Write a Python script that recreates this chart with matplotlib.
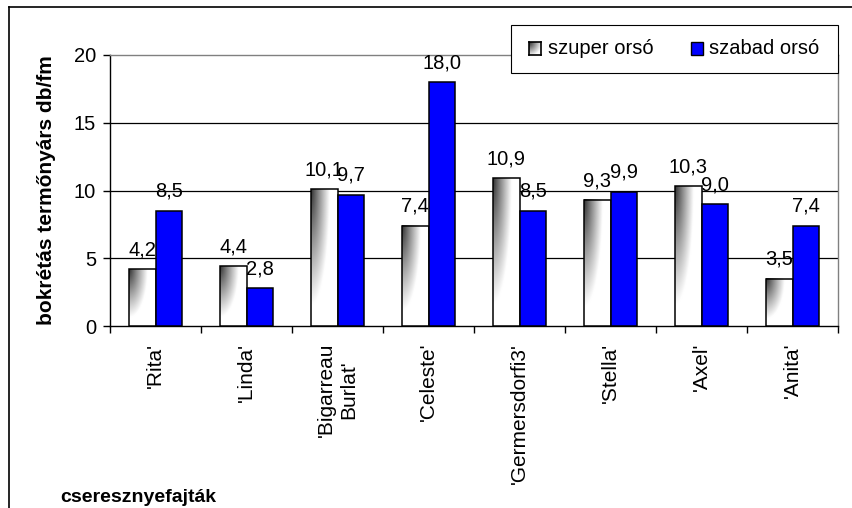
import numpy as np
import matplotlib
matplotlib.use('Agg')
import matplotlib.pyplot as plt
from matplotlib.patches import Rectangle
from matplotlib.lines import Line2D

categories = ["'Rita'", "'Linda'", "'Bigarreau\nBurlat'", "'Celeste'",
              "'Germersdorfi3'", "'Stella'", "'Axel'", "'Anita'"]
szuper = [4.2, 4.4, 10.1, 7.4, 10.9, 9.3, 10.3, 3.5]
szabad = [8.5, 2.8, 9.7, 18.0, 8.5, 9.9, 9.0, 7.4]
series_names = ['szuper orsó', 'szabad orsó']
y_ticks = [0, 5, 10, 15, 20]
y_label = 'bokrétás termőnyárs db/fm'
x_label = 'cseresznyefajták'

plt.rcParams['font.family'] = ['Liberation Sans', 'DejaVu Sans']

W, H = 852, 508
fig = plt.figure(figsize=(W / 100, H / 100), dpi=100)
ax = fig.add_axes([110 / W, 1 - 326 / H, 728 / W, 271 / H])

x = np.arange(len(categories))
bw = 0.29
bars1 = ax.bar(x - bw / 2, szuper, bw, facecolor='none', edgecolor='black',
               linewidth=1.1, zorder=3)
bars2 = ax.bar(x + bw / 2, szabad, bw, facecolor='#0000FF', edgecolor='black',
               linewidth=1.1, zorder=3)

# gradient fill for first series
ny, nx = 200, 60
xx, yy = np.meshgrid(np.linspace(0, 1, nx), np.linspace(0, 1, ny))
t = np.clip(np.sqrt((xx / 0.7) ** 2 + (yy / 0.85) ** 2), 0, 1)
dark = 0.18
g = dark + (1 - dark) * t ** 0.9
img = np.dstack([g, g, g])
for p in bars1:
    x0, y0 = p.get_x(), p.get_y()
    w, h = p.get_width(), p.get_height()
    ax.imshow(img, extent=(x0, x0 + w, y0, y0 + h), origin='upper',
              aspect='auto', zorder=2.9, interpolation='bilinear')

ax.set_xlim(-0.5, len(categories) - 0.5)
ax.set_ylim(y_ticks[0], y_ticks[-1])

for v in y_ticks[1:-1]:
    ax.axhline(v, color='black', lw=0.9, zorder=1)

for s in ['top', 'right']:
    ax.spines[s].set_color('#808080')
    ax.spines[s].set_linewidth(1.0)
for s in ['left', 'bottom']:
    ax.spines[s].set_color('black')
    ax.spines[s].set_linewidth(1.0)

ax.set_xticks(x, categories, rotation=90, fontsize=15)
for lab in ax.get_xticklabels():
    lab.set_multialignment('center')
ax.set_xticks(np.arange(-0.5, len(categories), 1), minor=True)
ax.tick_params(axis='x', which='major', length=0, pad=12)
ax.tick_params(axis='x', which='minor', length=5, direction='out', width=1)
ax.set_yticks(y_ticks)
ax.tick_params(axis='y', length=5, direction='out', pad=5, labelsize=14.5, width=1)


def fmt(v):
    return f"{v:.1f}".replace('.', ',')


for bars, vals in [(bars1, szuper), (bars2, szabad)]:
    for p, v in zip(bars, vals):
        ax.annotate(fmt(v), (p.get_x() + p.get_width() / 2, p.get_height()),
                    xytext=(0, 10), textcoords='offset points', ha='center',
                    va='baseline', fontsize=14.5, zorder=5)

fig.text(47 / W, 1 - 190 / H, y_label, rotation=90, ha='center', va='center',
         fontsize=15, fontweight='bold')
fig.text(60 / W, 1 - 497 / H, x_label, ha='left', va='center', fontsize=14,
         fontweight='bold')

# outer frame
fig.add_artist(Line2D([9 / W, 1], [1 - 7 / H, 1 - 7 / H], color='black', lw=1.2))
fig.add_artist(Line2D([9 / W, 9 / W], [1 - 7 / H, 0], color='black', lw=1.2))

# legend
fig.add_artist(Rectangle((511 / W, 1 - 73 / H), 327 / W, 48 / H,
                         transform=fig.transFigure, facecolor='white',
                         edgecolor='black', lw=0.8, zorder=5))
lax = fig.add_axes([529 / W, 1 - 55 / H, 12 / W, 13 / H], zorder=6)
sq = np.clip(np.sqrt(xx ** 2 + yy ** 2) / 1.1, 0, 1)
gs = dark + (1 - dark) * sq
lax.imshow(np.dstack([gs, gs, gs]), aspect='auto', extent=(0, 1, 0, 1))
lax.set_xticks([])
lax.set_yticks([])
for s in lax.spines.values():
    s.set_linewidth(1.2)
fig.add_artist(Rectangle((691 / W, 1 - 55 / H), 12 / W, 13 / H,
                         transform=fig.transFigure, facecolor='#0000FF',
                         edgecolor='black', lw=1.0, zorder=6))
fig.text(548 / W, 1 - 49 / H, series_names[0], va='center', ha='left',
         fontsize=14.5, zorder=7)
fig.text(709 / W, 1 - 49 / H, series_names[1], va='center', ha='left',
         fontsize=14.5, zorder=7)

fig.savefig('out.png', dpi=100)
